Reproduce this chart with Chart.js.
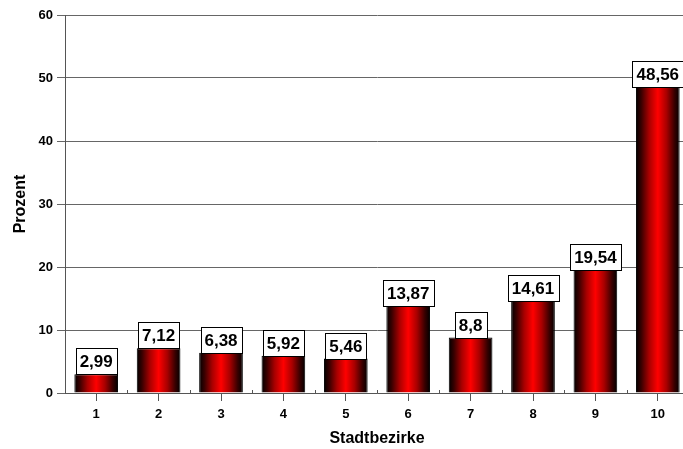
<!DOCTYPE html>
<html>
<head>
<meta charset="utf-8">
<script src="https://cdn.jsdelivr.net/npm/chart.js@4.4.0/dist/chart.umd.min.js"></script>
<style>
  html, body { margin: 0; padding: 0; background: #fff; overflow: hidden; }
  #wrap { width: 700px; height: 449px; }
</style>
</head>
<body>
<div id="wrap"><canvas id="myChart"></canvas></div>
<script>
var bezirke = ['1', '2', '3', '4', '5', '6', '7', '8', '9', '10'];
var prozent = [2.99, 7.12, 6.38, 5.92, 5.46, 13.87, 8.8, 14.61, 19.54, 48.56];
var yTicks = [0, 10, 20, 30, 40, 50, 60];

// horizontal black-red-black shading per bar
var barShading = {
    id: 'barShading',
    beforeDatasetsDraw: function (chart) {
        var c = chart.ctx;
        chart.getDatasetMeta(0).data.forEach(function (bar) {
            var l = bar.x - bar.width / 2, r = bar.x + bar.width / 2;
            var g = c.createLinearGradient(l, 0, r, 0);
            g.addColorStop(0, '#000000');
            g.addColorStop(0.12, '#380000');
            g.addColorStop(0.3, '#a80000');
            g.addColorStop(0.5, '#ff0000');
            g.addColorStop(0.7, '#a80000');
            g.addColorStop(0.88, '#380000');
            g.addColorStop(1, '#000000');
            bar.options.backgroundColor = g;
        });
    }
};

// white boxed value labels sitting on the bars + small boundary ticks
var valueBoxes = {
    id: 'valueBoxes',
    afterDatasetsDraw: function (chart) {
        var c = chart.ctx;
        var x = chart.scales.x;
        var step = x.getPixelForValue(1) - x.getPixelForValue(0);
        c.save();
        c.strokeStyle = '#555';
        c.lineWidth = 1;
        for (var i = 1; i < bezirke.length; i++) {
            var bx = Math.round(x.getPixelForValue(i) - step / 2) + 0.5;
            c.beginPath();
            c.moveTo(bx, chart.chartArea.bottom);
            c.lineTo(bx, chart.chartArea.bottom - 3);
            c.stroke();
        }
        c.font = 'bold 17px "Liberation Sans", Arial, sans-serif';
        c.textAlign = 'center';
        c.textBaseline = 'middle';
        chart.getDatasetMeta(0).data.forEach(function (bar, i) {
            var txt = String(prozent[i]).replace('.', ',');
            var w = Math.round(c.measureText(txt).width + 8);
            var h = 26;
            var left = Math.round(bar.x - w / 2) + 0.5;
            var top = Math.round(bar.y - h) + 0.5;
            c.fillStyle = '#fff';
            c.fillRect(left, top, w, h);
            c.strokeStyle = '#000';
            c.strokeRect(left, top, w, h);
            c.fillStyle = '#000';
            c.fillText(txt, bar.x, top + h / 2 + 1);
        });
        c.restore();
    }
};

var ctx = document.getElementById('myChart').getContext('2d');
var myChart = new Chart(ctx, {
    type: 'bar',
    data: {
        labels: bezirke,
        datasets: [{
            data: prozent,
            // scriptable so every bar gets its own options object
            backgroundColor: function (context) { return '#c00000'; },
            borderColor: '#000',
            borderWidth: 1,
            categoryPercentage: 1,
            barPercentage: 0.7
        }]
    },
    options: {
        responsive: true,
        maintainAspectRatio: false,
        animation: false,
        layout: { padding: { top: 15, right: 11, left: 0, bottom: 0 } },
        plugins: {
            legend: { display: false },
            tooltip: { enabled: false }
        },
        scales: {
            x: {
                afterFit: function (s) { s.height = 56; },
                border: { color: '#555', width: 1 },
                grid: { offset: false, drawOnChartArea: false, tickLength: 8, color: '#555' },
                ticks: {
                    padding: 6,
                    color: '#000',
                    font: { family: '"Liberation Sans", Arial, sans-serif', size: 13, weight: 'bold' }
                },
                title: {
                    display: true,
                    text: 'Stadtbezirke',
                    color: '#000',
                    padding: { top: 0, bottom: 1 },
                    font: { family: '"Liberation Sans", Arial, sans-serif', size: 16, weight: 'bold' }
                }
            },
            y: {
                min: 0,
                max: 60,
                afterFit: function (s) { s.width = 65; },
                afterBuildTicks: function (s) { s.ticks = yTicks.map(function (v) { return { value: v }; }); },
                border: { color: '#555', width: 1 },
                grid: { color: '#666', tickLength: 8 },
                ticks: {
                    padding: 4,
                    color: '#000',
                    font: { family: '"Liberation Sans", Arial, sans-serif', size: 13, weight: 'bold' }
                },
                title: {
                    display: true,
                    text: 'Prozent',
                    color: '#000',
                    padding: { top: 11, bottom: 0 },
                    font: { family: '"Liberation Sans", Arial, sans-serif', size: 16, weight: 'bold' }
                }
            }
        }
    },
    plugins: [barShading, valueBoxes]
});
</script>
</body>
</html>
